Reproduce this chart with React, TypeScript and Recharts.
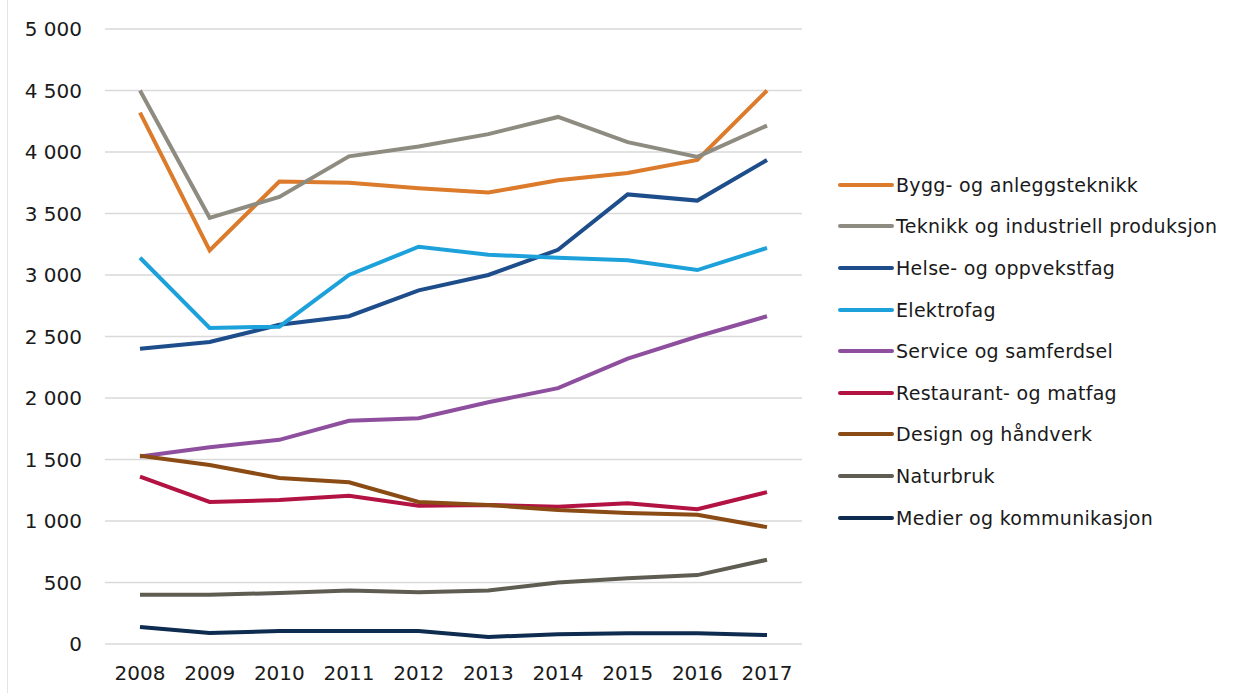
import { LineChart, Line, XAxis, YAxis, CartesianGrid, Legend } from 'recharts'

// Years on the x axis
const years = ['2008', '2009', '2010', '2011', '2012', '2013', '2014', '2015', '2016', '2017']

// Values per programme
const bygg = [4320, 3200, 3760, 3750, 3705, 3670, 3770, 3830, 3935, 4500]
const teknikk = [4500, 3465, 3635, 3965, 4045, 4145, 4285, 4080, 3960, 4215]
const helse = [2400, 2455, 2595, 2665, 2875, 3000, 3205, 3655, 3605, 3935]
const elektro = [3140, 2570, 2580, 3000, 3230, 3165, 3140, 3120, 3040, 3220]
const service = [1525, 1600, 1660, 1815, 1835, 1965, 2080, 2320, 2500, 2665]
const restaurant = [1360, 1155, 1170, 1205, 1125, 1130, 1115, 1145, 1095, 1235]
const design = [1530, 1455, 1350, 1315, 1155, 1130, 1090, 1065, 1050, 950]
const naturbruk = [400, 400, 415, 435, 420, 435, 500, 535, 560, 685]
const medier = [138, 90, 105, 105, 105, 57, 80, 88, 88, 73]

const yTicks = [0, 500, 1000, 1500, 2000, 2500, 3000, 3500, 4000, 4500, 5000]

const series = [
  { key: 'Bygg- og anleggsteknikk', values: bygg, color: '#DB7B2B' },
  { key: 'Teknikk og industriell produksjon', values: teknikk, color: '#8E8B80' },
  { key: 'Helse- og oppvekstfag', values: helse, color: '#1E4D8B' },
  { key: 'Elektrofag', values: elektro, color: '#1DA1DB' },
  { key: 'Service og samferdsel', values: service, color: '#8F4F9F' },
  { key: 'Restaurant- og matfag', values: restaurant, color: '#B31342' },
  { key: 'Design og håndverk', values: design, color: '#8A4B14' },
  { key: 'Naturbruk', values: naturbruk, color: '#5F5C52' },
  { key: 'Medier og kommunikasjon', values: medier, color: '#0E2B50' },
]

const data = years.map((year, i) => {
  const row: Record<string, string | number> = { year }
  series.forEach((s) => {
    row[s.key] = s.values[i]
  })
  return row
})

const font = '"DejaVu Sans", sans-serif'

// space as thousands separator, like the original
const fmt = (v: number) => (v >= 1000 ? `${Math.floor(v / 1000)} ${String(v % 1000).padStart(3, '0')}` : String(v))

function LegendBox({ payload }: any) {
  // keep the series order instead of the alphabetical one
  const order = series.map((s) => s.key)
  const items = [...(payload || [])].sort((a: any, b: any) => order.indexOf(a.value) - order.indexOf(b.value))
  return (
    <div style={{ fontFamily: font, fontSize: 19, letterSpacing: 0.3, color: '#1a1a1a' }}>
      {items.map((p: any) => (
        <div key={p.value} style={{ display: 'flex', alignItems: 'center', height: 41.6 }}>
          <svg width={56} height={6} style={{ marginRight: 2 }}>
            <line x1={2} y1={3} x2={54} y2={3} stroke={p.color} strokeWidth={4} strokeLinecap="round" />
          </svg>
          <span style={{ whiteSpace: 'nowrap' }}>{p.value}</span>
        </div>
      ))}
    </div>
  )
}

export default function App() {
  return (
    <div
      style={{
        position: 'absolute',
        left: 0,
        top: 0,
        width: 1234,
        height: 693,
        background: '#fff',
        borderLeft: '1px solid #e4e4e4',
        marginLeft: 7,
        boxSizing: 'border-box',
      }}
    >
      <div style={{ position: 'absolute', left: -8, top: 0 }}>
        <LineChart width={1234} height={693} data={data} margin={{ top: 29, right: 432, bottom: 19, left: 10 }}>
          <CartesianGrid vertical={false} stroke="#D9D9D9" strokeWidth={1.5} />
          <XAxis
            dataKey="year"
            axisLine={false}
            tickLine={false}
            height={30}
            tickMargin={16}
            padding={{ left: 35, right: 35 }}
            tick={{ fontFamily: font, fontSize: 20, fill: '#1a1a1a' }}
            interval={0}
          />
          <YAxis
            domain={[0, 5000]}
            ticks={yTicks}
            axisLine={false}
            tickLine={false}
            width={95}
            tickMargin={17}
            tickFormatter={fmt}
            tick={{ fontFamily: font, fontSize: 20, fill: '#1a1a1a' }}
            interval={0}
          />
          <Legend
            layout="vertical"
            align="center"
            verticalAlign="middle"
            content={<LegendBox />}
            wrapperStyle={{ position: 'absolute', left: 838, top: 164, width: 396, height: 380 }}
          />
          {series.map((s) => (
            <Line
              key={s.key}
              dataKey={s.key}
              stroke={s.color}
              strokeWidth={4}
              dot={false}
              activeDot={false}
              type="linear"
              isAnimationActive={false}
            />
          ))}
        </LineChart>
      </div>
    </div>
  )
}
